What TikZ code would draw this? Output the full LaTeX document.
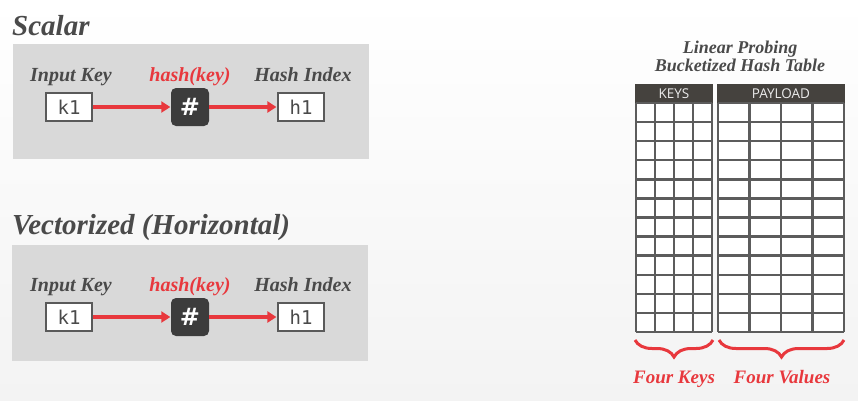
\documentclass[tikz,border=0pt]{standalone}
\usepackage{fontspec}
\setmainfont{Liberation Serif}
\newfontfamily\monof{DejaVu Sans Mono}
\newfontfamily\hdrf{Open Sans}
\newfontfamily\hashf{DejaVu Sans}
\usetikzlibrary{arrows.meta,decorations.pathreplacing}
\definecolor{panelgray}{HTML}{D9D9D9}
\definecolor{txtgray}{HTML}{4A4A4A}
\definecolor{boxgray}{HTML}{5A5A5A}
\definecolor{hashdark}{HTML}{3C3C3C}
\definecolor{accred}{HTML}{E8383D}
\definecolor{hdrdark}{HTML}{45423E}
\definecolor{gridgray}{HTML}{5C5C5C}
\definecolor{bglow}{HTML}{F3F3F3}
\definecolor{hdrtxt}{HTML}{EBEBEB}
\tikzset{
  panel/.style={fill=panelgray, draw=none},
  sectitle/.style={anchor=base west, inner sep=0pt, text=txtgray, font=\fontsize{29}{29}\selectfont\bfseries\itshape},
  lbl/.style={anchor=base, inner sep=0pt, text=txtgray, font=\fontsize{20}{20}\selectfont\bfseries\itshape},
  redlbl/.style={lbl, text=accred},
  keybox/.style={draw=boxgray, line width=2.2pt, fill=white, minimum width=46pt, minimum height=28pt, inner sep=0pt, text=txtgray, font=\monof\fontsize{19}{19}\selectfont},
  hashbox/.style={fill=hashdark, rounded corners=5pt, minimum width=38pt, minimum height=38pt, inner sep=0pt, text=white, font=\hashf\bfseries\fontsize{24}{24}\selectfont},
  redarrow/.style={draw=accred, line width=3.4pt, -{Triangle[length=9pt,width=11pt]}, shorten >=0.5pt},
  hdr/.style={fill=hdrdark, draw=none},
  hdrtext/.style={text=hdrtxt, font=\hdrf\fontsize{13.5}{13.5}\selectfont, inner sep=0pt},
  grid/.style={draw=gridgray, line width=2.4pt},
  rbrace/.style={draw=accred, line width=3pt, decorate, decoration={brace, mirror, amplitude=17pt, aspect=0.5}},
  tbltitle/.style={anchor=base, inner sep=0pt, text=txtgray, font=\fontsize{18}{18}\selectfont\bfseries\itshape},
  redfoot/.style={anchor=base, inner sep=0pt, text=accred, font=\fontsize{19}{19}\selectfont\bfseries\itshape},
}
\begin{document}
\begin{tikzpicture}[x=1pt, y=-1pt]
  \shade[top color=white, bottom color=bglow] (0,0) rectangle (858,400);
  \useasboundingbox (0,0) rectangle (858,400);

  % ---------- Scalar ----------
  \node[sectitle] (t1) at (12,35) {Scalar};
  \fill[panel] (13,44) rectangle (369,159);
  \node[lbl] (l1a) at (71,81) {Input Key};
  \node[redlbl] (l1b) at (190,81) {hash(key)};
  \node[lbl] (l1c) at (303,81) {Hash Index};
  \node[keybox] (k1a) at (69,107) {k1};
  \node[hashbox] (h1a) at (190,107) {\#};
  \node[keybox] (o1a) at (301,107) {h1};
  \draw[redarrow] (k1a.east) -- (h1a.west);
  \draw[redarrow] (h1a.east) -- (o1a.west);

  % ---------- Vectorized ----------
  \node[sectitle] (t2) at (12,234) {Vectorized (Horizontal)};
  \fill[panel] (12,245) rectangle (368,361);
  \node[lbl] (l2a) at (71,291) {Input Key};
  \node[redlbl] (l2b) at (190,291) {hash(key)};
  \node[lbl] (l2c) at (303,291) {Hash Index};
  \node[keybox] (k1b) at (69,317) {k1};
  \node[hashbox] (h1b) at (190,317) {\#};
  \node[keybox] (o1b) at (301,317) {h1};
  \draw[redarrow] (k1b.east) -- (h1b.west);
  \draw[redarrow] (h1b.east) -- (o1b.west);

  % ---------- Hash table ----------
  \node[tbltitle] (tt1) at (740,53) {Linear Probing};
  \node[tbltitle] (tt2) at (740,71) {Bucketized Hash Table};

  % keys table
  \fill[hdr] (635,84) rectangle (713,103);
  \node[hdrtext] (hk) at (674,94) {KEYS};
  \fill[white] (636,103) rectangle (712,332);
  \foreach \i in {0,...,12} {\draw[grid] (636,{103+\i*19.083}) -- (712,{103+\i*19.083});}
  \foreach \j in {0,...,4} {\draw[grid] ({636+\j*19},103) -- ({636+\j*19},332);}

  % payload table
  \fill[hdr] (717,84) rectangle (845,103);
  \node[hdrtext] (hp) at (781,94) {PAYLOAD};
  \fill[white] (718,103) rectangle (844,332);
  \foreach \i in {0,...,12} {\draw[grid] (718,{103+\i*19.083}) -- (844,{103+\i*19.083});}
  \foreach \j in {0,...,4} {\draw[grid] ({718+\j*31.5},103) -- ({718+\j*31.5},332);}

  % braces
  \coordinate (bk1) at (635,340);
  \coordinate (bk2) at (713,340);
  \coordinate (bp1) at (719,340);
  \coordinate (bp2) at (844,340);
  \draw[rbrace] (bk1) -- (bk2);
  \draw[rbrace] (bp1) -- (bp2);
  \node[redfoot] (fk) at (674,383) {Four Keys};
  \node[redfoot] (fv) at (782,383) {Four Values};
\end{tikzpicture}
\end{document}
